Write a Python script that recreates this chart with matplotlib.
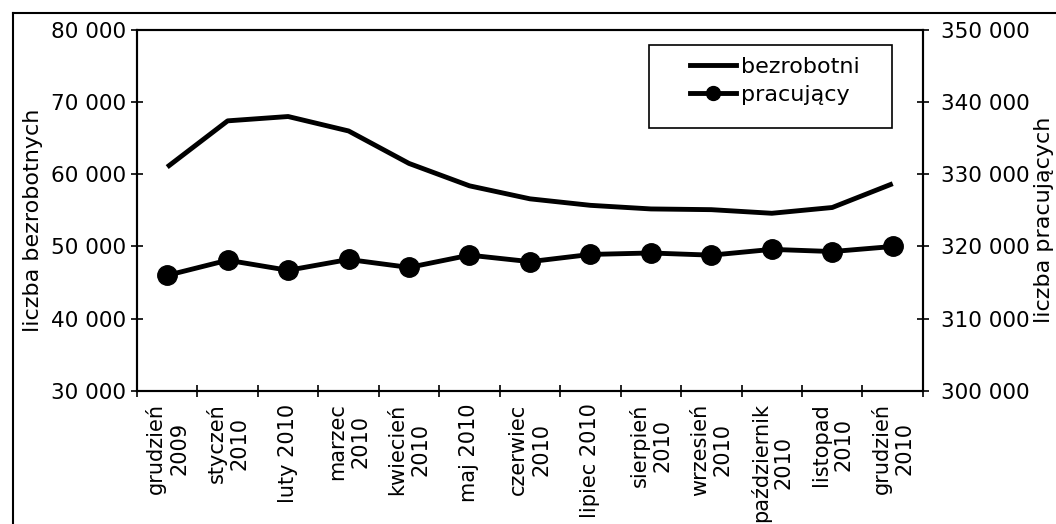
import matplotlib

matplotlib.use("Agg")
import matplotlib.pyplot as plt
from matplotlib.lines import Line2D
from matplotlib.patches import Rectangle
from matplotlib.ticker import FuncFormatter

plt.rcParams["font.family"] = ["DejaVu Sans"]

months = [
    "grudzień\n2009",
    "styczeń\n2010",
    "luty 2010",
    "marzec\n2010",
    "kwiecień\n2010",
    "maj 2010",
    "czerwiec\n2010",
    "lipiec 2010",
    "sierpień\n2010",
    "wrzesień\n2010",
    "październik\n2010",
    "listopad\n2010",
    "grudzień\n2010",
]
bezrobotni = [61000, 67400, 68000, 66000, 61500, 58400, 56600,
              55700, 55200, 55100, 54600, 55400, 58700]
pracujacy = [316000, 318100, 316700, 318200, 317100, 318800, 317900,
             318900, 319100, 318800, 319600, 319300, 320000]


def spaced(v, pos):
    return f"{int(v):,}".replace(",", " ")


fig = plt.figure(figsize=(10.56, 5.24), dpi=100)
ax = fig.add_axes([0.1297, 0.254, 0.7443, 0.689])
ax2 = ax.twinx()

x = list(range(len(months)))
ax.plot(x, bezrobotni, color="black", lw=3.5, solid_capstyle="butt")
ax2.plot(x, pracujacy, color="black", lw=3.5, marker="o", markersize=14)

ax.set_xlim(-0.5, len(months) - 0.5)
ax.set_ylim(30000, 80000)
ax2.set_ylim(300000, 350000)
ax.set_yticks(range(30000, 80001, 10000))
ax2.set_yticks(range(300000, 350001, 10000))
ax.yaxis.set_major_formatter(FuncFormatter(spaced))
ax2.yaxis.set_major_formatter(FuncFormatter(spaced))

ax.set_xticks(x)
ax.set_xticklabels(months, rotation=90, ha="center", va="top",
                   multialignment="center", fontsize=15)
ax.set_xticks([i - 0.5 for i in range(len(months) + 1)], minor=True)
ax.tick_params(axis="x", which="major", length=0, pad=9)
ax.tick_params(axis="x", which="minor", direction="inout", length=9, width=1.2)
ax.tick_params(axis="y", direction="inout", length=9, width=1.2,
               labelsize=15.5, pad=3.5)
ax2.tick_params(axis="y", direction="inout", length=9, width=1.2,
                labelsize=15.5, pad=8.5)

for a in (ax, ax2):
    for s in a.spines.values():
        s.set_linewidth(1.5)

fig.text(0.031, 0.58, "liczba bezrobotnych", rotation=90, fontsize=16,
         ha="center", va="center")
fig.text(0.989, 0.58, "liczba pracujących", rotation=90, fontsize=16,
         ha="center", va="center")

# legend: entries without frame, frame drawn separately (Excel-style padding)
handles = [
    Line2D([], [], color="black", lw=3.5),
    Line2D([], [], color="black", lw=3.5, marker="o", markersize=10),
]
leg = ax.legend(handles, ["bezrobotni", "pracujący"], loc="upper left",
                bbox_to_anchor=(0.703, 0.925), fontsize=16, frameon=False,
                borderpad=0, labelspacing=0.35, handlelength=2.1,
                handletextpad=0.2, borderaxespad=0)
ax.add_patch(Rectangle((0.651, 0.729), 0.309, 0.229, transform=ax.transAxes,
                       fill=False, edgecolor="black", lw=1.2, zorder=5))

fig.add_artist(Line2D([0.012, 0.012], [0.0, 0.976], color="black", lw=1.5,
                      transform=fig.transFigure))
fig.add_artist(Line2D([0.012, 1.0], [0.976, 0.976], color="black", lw=1.5,
                      transform=fig.transFigure))

fig.savefig("out.png", dpi=100)
